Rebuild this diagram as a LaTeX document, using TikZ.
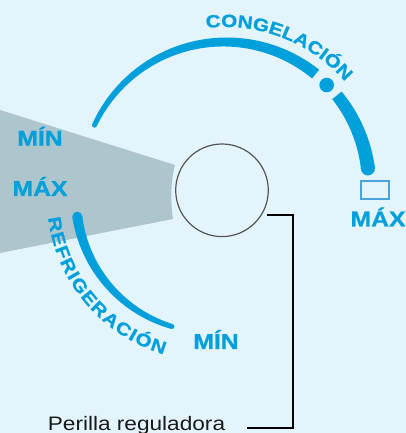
\documentclass[tikz,border=0pt]{standalone}
\usepackage{fontspec}
\setmainfont{Liberation Sans}
\newfontfamily\labfont{Liberation Sans}[FakeStretch=1.15,FakeBold=1]
\newfontfamily\arcfont{Liberation Sans}[FakeStretch=1.16,FakeBold=1]
\newfontfamily\perfont{Liberation Sans}[FakeStretch=1.16]
\definecolor{bg}{HTML}{E4F4FC}
\definecolor{blu}{HTML}{00A0DC}
\definecolor{wedgecol}{HTML}{ADC5CC}
\definecolor{knobline}{HTML}{555555}
\definecolor{boxline}{HTML}{4AA3DC}
\definecolor{txtdark}{HTML}{1A1A1A}
\begin{document}
\begin{tikzpicture}[x=1pt,y=1pt,
  declare function={wt(\t)=5+(155-\t)*9/148; wb(\t)=10-(\t-188)*5/65.5;},
  lab/.style={font=\labfont\bfseries\fontsize{21.5}{21.5}\selectfont, text=blu, inner sep=0, anchor=base},
  arcl/.style={font=\arcfont\bfseries\fontsize{17.8}{17.8}\selectfont, text=blu, inner sep=0, anchor=base},
  conn/.style={draw=black, line width=1.3},
  knobstyle/.style={circle, draw=knobline, line width=1.2, minimum size=92.6, inner sep=0},
  perstyle/.style={font=\perfont\fontsize{19.5}{19.5}\selectfont, text=txtdark, inner sep=0, anchor=base}]
\useasboundingbox (0,0) rectangle (406,433);
\fill[bg] (0,0) rectangle (406,433);
% gray wedge
\fill[wedgecol] (0,323) -- (175,268) .. controls (170.5,252) and (170.5,230) .. (173,214) -- (0,180) -- cycle;
% knob
\node[knobstyle] (knob) at (222,242.7) {};
% top arc (CONGELACION), tapered
\fill[blu] plot[domain=155:51,samples=60] ({225+(144+wt(\x)/2)*cos(\x)},{247+(144+wt(\x)/2)*sin(\x)})
  -- plot[domain=51:155,samples=60] ({225+(144-wt(\x)/2)*cos(\x)},{247+(144-wt(\x)/2)*sin(\x)}) -- cycle;
\fill[blu] plot[domain=39:7,samples=30] ({225+(144+wt(\x)/2)*cos(\x)},{247+(144+wt(\x)/2)*sin(\x)})
  -- plot[domain=7:39,samples=30] ({225+(144-wt(\x)/2)*cos(\x)},{247+(144-wt(\x)/2)*sin(\x)}) -- cycle;
\fill[blu,shift={(225,247)}] (155:144) circle[radius=2.5];
\fill[blu,shift={(225,247)}] (7:144) circle[radius=7];
\fill[blu,shift={(225,247)}] (44.8:143.3) circle[radius=7.3];
% bottom arc (REFRIGERACION), tapered
\fill[blu] plot[domain=188:253.5,samples=60] ({210+(134+wb(\x)/2)*cos(\x)},{235+(134+wb(\x)/2)*sin(\x)})
  -- plot[domain=253.5:188,samples=60] ({210+(134-wb(\x)/2)*cos(\x)},{235+(134-wb(\x)/2)*sin(\x)}) -- cycle;
\fill[blu,shift={(210,235)}] (188:134) circle[radius=5];
\fill[blu,shift={(210,235)}] (253.5:134) circle[radius=2.5];
% arc texts, letter by letter
\foreach \ch/\a [count=\i] in {C/94.11, O/88.53, N/82.95, G/77.37, E/71.99, L/67.24, A/62.27, C/56.90, I/53.18, Ó/49.25, N/43.67}
  \node[arcl, rotate=\a-90] (cg\i) at ([shift={(225,247)}]\a:159) {\ch};
\foreach \ch/\a [count=\i] in {R/189.62, E/195.13, F/200.23, R/205.54, I/209.64, G/213.94, E/219.65, R/225.16, A/230.87, C/236.58, I/240.67, Ó/244.98, N/250.89}
  \node[arcl, rotate=\a+90] (rf\i) at ([shift={(210,235)}]\a:163) {\ch};
% small box
\draw[boxline, line width=1.2, fill=bg] (361,234) rectangle (389,252);
% labels
\node[lab] (minl) at (40,287.3) {MÍN};
\node[lab] (maxl) at (40,237) {MÁX};
\node[lab] (maxr) at (378,206.5) {MÁX};
\node[lab] (minb) at (216,84) {MÍN};
\node[perstyle] (per) at (136.5,2) {Perilla reguladora};
% connector
\coordinate (cstart) at (267,218);
\coordinate (cend) at (247,5);
\draw[conn] (cstart) -- ++(26,0) |- (cend);
\end{tikzpicture}
\end{document}
